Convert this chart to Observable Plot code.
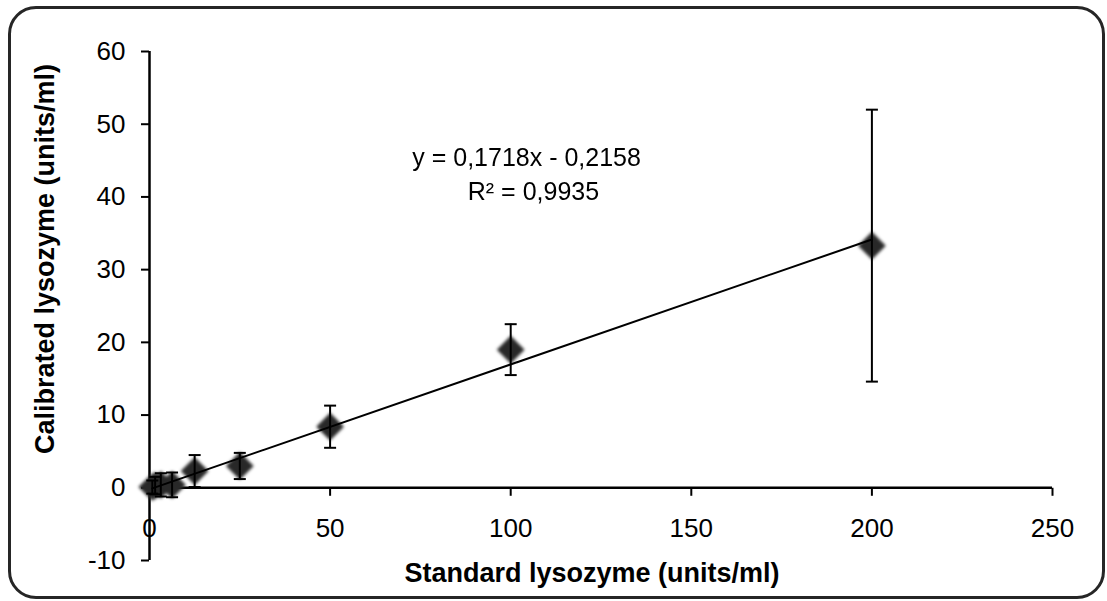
<!DOCTYPE html>
<html>
<head>
<meta charset="utf-8">
<script src="https://cdn.jsdelivr.net/npm/d3@7"></script>
<script src="https://cdn.jsdelivr.net/npm/@observablehq/plot@0.6"></script>
<style>
  html, body { margin: 0; padding: 0; background: #fff; }
  #wrap { position: relative; width: 1107px; height: 601px; overflow: hidden; }
  #frame { position: absolute; left: 8px; top: 6px; width: 1097px; height: 593px; box-sizing: border-box;
           border: 3px solid #262626; border-radius: 28px; pointer-events: none; }
  #chart { position: absolute; left: 0; top: 0; }
</style>
</head>
<body>
<div id="wrap"><div id="chart"></div><div id="frame"></div></div>
<script>
// Standard lysozyme concentrations (units/ml)
const standard = [0.78125, 1.5625, 3.125, 6.25, 12.5, 25, 50, 100, 200];
// Calibrated lysozyme means (units/ml)
const calibrated = [0.1, 0.3, 0.4, 0.4, 2.3, 3.0, 8.4, 19.0, 33.3];
// Error (± one SD, units/ml)
const errors = [0.9, 1.2, 1.6, 1.7, 2.2, 1.8, 2.9, 3.5, 18.7];
// Trendline parameters
const slope = 0.1718;
const intercept = -0.2158;
const equationLines = ["y = 0,1718x - 0,2158", "R² = 0,9935"];
// Axes
const xTicks = [0, 50, 100, 150, 200, 250];
const yTicks = [-10, 0, 10, 20, 30, 40, 50, 60];
const xTitle = "Standard lysozyme (units/ml)";
const yTitle = "Calibrated lysozyme (units/ml)";

const data = standard.map((x, i) => ({x, y: calibrated[i], lo: calibrated[i] - errors[i], hi: calibrated[i] + errors[i]}));
const xmin = d3.min(standard), xmax = d3.max(standard);
const trend = [xmin, xmax].map(x => ({x, y: slope * x + intercept}));

const capSymbol = {draw(ctx, size) { const w = Math.sqrt(size / Math.PI); ctx.moveTo(-w, 0); ctx.lineTo(w, 0); }};
const tickDown = {draw(ctx, size) { const h = Math.sqrt(size / Math.PI); ctx.moveTo(0, 0); ctx.lineTo(0, h); }};

const font = "'Liberation Sans', Arial, sans-serif";

const chart = Plot.plot({
  width: 1107,
  height: 601,
  marginLeft: 149,
  marginRight: 55,
  marginTop: 51,
  marginBottom: 41,
  x: {domain: [0, 250], axis: null},
  y: {domain: [-10, 60]},
  style: {fontFamily: font, fontSize: "26px", color: "#000", background: "transparent", overflow: "visible"},
  marks: [
    Plot.axisY({ticks: yTicks, tickSize: 8, tickPadding: 16, fontSize: 26, label: null,
                tickFormat: d => String(d), stroke: "#000", strokeWidth: 2}),
    Plot.ruleX([0], {y1: -10, y2: 60, stroke: "#000", strokeWidth: 2.5}),
    Plot.ruleY([0], {stroke: "#000", strokeWidth: 2.5}),
    Plot.dot(xTicks, {x: d => d, y: 0, symbol: tickDown, r: 8, stroke: "#000", strokeWidth: 2, fill: "none"}),
    Plot.text(xTicks, {x: d => d, y: 0, dy: 41, text: d => String(d), fontSize: 26, fill: "#000"}),
    Plot.dot(data, {x: "x", y: "y", symbol: "diamond2", r: 12.5, fill: "#282828", stroke: "none"}),
    Plot.ruleX(data, {x: "x", y1: "lo", y2: "hi", stroke: "#000", strokeWidth: 2}),
    Plot.dot(data, {x: "x", y: "lo", symbol: capSymbol, r: 6, stroke: "#000", strokeWidth: 2, fill: "none"}),
    Plot.dot(data, {x: "x", y: "hi", symbol: capSymbol, r: 6, stroke: "#000", strokeWidth: 2, fill: "none"}),
    Plot.line(trend, {x: "x", y: "y", stroke: "#000", strokeWidth: 2}),
    Plot.text([equationLines[0]], {x: 104.4, y: 45.3, text: d => d, fontSize: 25, fill: "#000"}),
    Plot.text([equationLines[1]], {x: 106.3, y: 40.7, text: d => d, fontSize: 25, fill: "#000"}),
    Plot.text([xTitle], {frameAnchor: "bottom", dx: -9, dy: 21, text: d => d, fontSize: 27, fontWeight: "bold", fill: "#000"}),
    Plot.text([yTitle], {frameAnchor: "left", textAnchor: "middle", dx: -104, dy: -47, rotate: -90, text: d => d, fontSize: 27, fontWeight: "bold", fill: "#000"})
  ]
});

// soft marker edges like the reference
d3.select(chart).selectAll("g[aria-label=dot]").filter((d, i, n) => i === 1).style("filter", "blur(1.6px)");
document.getElementById("chart").appendChild(chart);
</script>
</body>
</html>
